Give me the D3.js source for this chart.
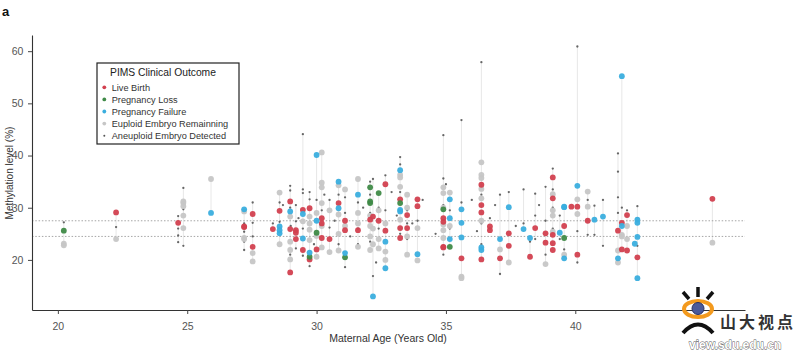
<!DOCTYPE html>
<html><head><meta charset="utf-8">
<script src="https://cdn.jsdelivr.net/npm/d3@7/dist/d3.min.js"></script>
<style>body{margin:0;background:#fff}svg{display:block;font-family:"Liberation Sans",Arial,sans-serif}</style>
</head><body><svg id="c" width="800" height="353"></svg>
<script>
const liveBirth=[[22.25,29.1],[24.65,27.1],[27.2,26.3],[27.2,26.4],[27.53,28.8],[27.53,22.5],[28.31,25.9],[28.57,29.4],[28.98,31.2],[28.98,25.9],[28.98,17.6],[29.2,25.7],[29.2,25.2],[29.2,24.0],[29.47,29.6],[29.47,21.9],[29.73,29.9],[29.73,20.1],[30.0,22.0],[30.2,28.0],[30.2,27.0],[30.2,24.2],[30.5,24.0],[30.85,30.9],[31.1,27.5],[31.1,25.7],[31.6,25.7],[32.07,27.7],[32.18,28.3],[32.4,27.5],[32.66,34.5],[32.66,25.6],[33.23,31.6],[33.23,26.1],[33.23,24.2],[33.5,28.6],[33.5,26.1],[33.9,31.6],[33.9,30.3],[34.9,28.0],[34.9,27.3],[34.9,22.5],[34.9,22.4],[35.6,20.3],[36.37,34.4],[36.37,30.5],[36.37,29.1],[36.7,26.4],[36.7,25.7],[36.37,20.1],[37.09,20.3],[37.43,25.1],[37.43,22.7],[38.25,20.6],[38.45,26.1],[38.85,23.3],[38.85,25.1],[39.13,35.8],[39.13,31.8],[39.13,24.8],[39.13,23.2],[39.13,21.9],[39.57,26.5],[39.85,30.2],[40.08,30.2],[40.08,21.0],[40.48,27.5],[41.65,25.6],[41.8,27.1],[41.8,22.0],[42.0,28.6],[42.0,21.8],[42.4,20.5],[45.3,31.7]];
const pregnancyLoss=[[20.23,25.6],[29.73,20.6],[30.0,25.2],[31.1,20.5],[32.07,33.9],[32.07,30.9],[32.07,31.2],[32.4,32.8],[33.23,30.9],[34.9,29.7],[35.15,22.5],[39.57,24.2]];
const pregnancyFailure=[[25.92,29.0],[27.2,29.7],[28.57,26.4],[28.57,25.7],[28.57,25.1],[28.98,29.3],[29.47,28.8],[29.47,24.1],[29.73,21.4],[30.0,40.1],[30.0,27.5],[30.85,35.0],[30.85,29.9],[31.1,21.3],[31.6,32.5],[32.18,13.0],[32.66,23.5],[32.66,18.4],[33.23,37.2],[33.23,29.3],[33.23,29.6],[33.9,21.1],[35.15,31.6],[35.15,28.0],[35.15,24.0],[35.6,29.7],[35.6,27.1],[35.6,24.3],[36.37,22.4],[36.37,21.9],[37.09,24.0],[37.43,30.1],[38.0,25.9],[38.25,24.2],[39.4,25.2],[39.57,30.1],[39.57,30.2],[39.57,20.3],[40.08,34.2],[40.74,27.7],[41.07,28.3],[41.65,20.3],[41.8,55.2],[41.8,26.5],[42.3,23.1],[42.4,27.7],[42.4,27.1],[42.4,24.4],[42.4,16.5]];
const euploidRemaining=[[20.23,23.1],[20.23,22.8],[22.25,24.0],[24.85,31.2],[24.85,30.9],[24.85,30.3],[24.85,28.5],[24.85,26.1],[25.92,35.5],[27.2,29.3],[27.2,24.2],[27.2,24.0],[27.53,21.3],[27.53,19.7],[28.57,32.9],[28.57,23.0],[28.98,28.3],[28.98,23.5],[28.98,21.9],[28.98,20.1],[29.47,27.4],[29.73,28.3],[29.73,27.0],[29.73,25.8],[29.73,23.8],[30.0,29.0],[30.0,24.6],[30.0,20.6],[30.2,40.6],[30.2,34.8],[30.2,33.9],[30.2,30.9],[30.2,26.5],[30.2,22.4],[30.5,21.5],[30.5,29.5],[30.85,34.3],[30.85,28.7],[30.85,25.0],[30.85,21.8],[31.1,26.5],[31.1,33.5],[31.6,29.0],[31.6,27.0],[31.6,22.5],[31.6,35.5],[32.07,24.5],[32.07,21.9],[32.07,28.5],[32.07,26.5],[32.18,23.0],[32.18,26.0],[32.4,24.0],[32.4,22.2],[32.4,29.5],[32.66,21.6],[32.66,20.0],[32.66,27.0],[33.23,36.3],[33.23,35.8],[33.23,27.7],[33.23,34.0],[33.5,32.5],[33.5,21.0],[33.5,30.0],[33.5,24.5],[33.9,26.1],[33.9,19.9],[34.9,33.9],[34.9,32.8],[34.9,25.7],[34.9,24.2],[34.9,30.0],[34.9,26.8],[35.15,32.9],[35.15,26.5],[35.6,16.8],[35.6,16.5],[36.37,38.7],[36.37,36.3],[36.37,35.7],[36.37,33.6],[36.37,31.8],[36.37,27.5],[37.09,22.0],[37.43,19.5],[38.85,19.2],[39.13,32.6],[39.13,29.5],[39.13,28.5],[39.13,25.4],[39.57,21.0],[40.08,31.6],[40.08,28.8],[40.48,33.1],[40.48,30.2],[41.65,21.8],[41.65,19.5],[41.8,24.8],[41.8,24.5],[42.0,26.5],[42.0,24.0],[45.3,23.3]];
const aneuploid=[[20.23,27.2],[22.25,26.3],[24.65,28.4],[24.65,26.0],[24.65,24.7],[24.65,23.4],[24.85,33.8],[24.85,29.7],[24.85,22.7],[27.2,25.4],[27.2,23.5],[27.2,21.9],[27.2,27.0],[27.53,31.0],[27.53,27.1],[27.53,24.5],[28.31,27.0],[28.57,27.3],[28.57,31.0],[28.98,34.2],[28.98,33.3],[28.98,21.0],[28.98,30.0],[29.2,30.5],[29.2,22.2],[29.2,27.4],[29.47,44.1],[29.47,33.5],[29.47,32.8],[29.47,20.8],[29.47,26.0],[29.73,31.6],[29.73,18.8],[29.73,33.0],[30.0,31.5],[30.2,29.5],[30.5,31.5],[30.5,26.2],[30.85,23.0],[30.85,32.5],[31.1,32.0],[31.1,18.6],[31.1,29.0],[31.6,31.0],[31.6,23.0],[31.6,26.0],[32.07,35.0],[32.07,29.0],[32.07,32.5],[32.07,23.5],[32.18,16.9],[32.18,35.5],[32.4,30.0],[32.4,26.0],[32.66,36.2],[32.66,29.5],[33.23,38.3],[33.23,39.7],[33.23,25.0],[33.23,33.0],[33.5,29.5],[33.5,24.0],[33.5,27.0],[33.9,27.5],[34.9,43.9],[34.9,35.6],[34.9,21.0],[34.9,30.5],[34.9,27.0],[35.15,26.0],[35.15,29.5],[35.6,46.8],[35.6,31.0],[36.37,57.9],[36.37,27.0],[36.37,23.0],[36.37,32.5],[36.7,28.0],[37.09,17.3],[37.09,32.5],[37.43,33.0],[38.0,33.5],[38.0,27.0],[38.25,23.5],[38.45,32.7],[38.45,28.5],[38.45,24.0],[38.85,34.0],[38.85,27.5],[38.85,21.0],[39.13,37.5],[39.13,30.0],[39.13,26.0],[39.13,33.5],[39.4,28.5],[39.4,24.0],[39.57,22.0],[40.08,60.9],[40.08,25.5],[40.08,19.5],[40.48,31.5],[40.48,24.8],[40.74,30.4],[40.74,24.8],[41.07,31.5],[41.07,22.7],[41.65,40.4],[41.65,36.9],[41.65,32.0],[41.65,29.0],[41.8,30.0],[42.0,29.5],[42.4,30.3],[42.4,22.7],[28.7,30.5],[29.0,26.5],[29.3,28.0],[29.9,23.0],[30.3,32.5],[30.7,27.5],[31.3,24.5],[31.8,30.0],[32.3,19.5],[32.9,33.0],[33.1,28.5],[33.7,27.0],[34.1,31.5],[34.6,25.0],[35.0,34.5],[36.0,31.5],[36.2,25.5],[36.9,30.5],[37.7,26.5],[38.6,30.5]];
const thresholds=[27.5,24.5];
const xTicks=[20,25,30,35,40];
const yTicks=[20,30,40,50,60];
const legendLabels=["Live Birth","Pregnancy Loss","Pregnancy Failure","Euploid Embryo Remainning","Aneuploid Embryo Detected"];

const svg=d3.select("#c");
const x=d3.scaleLinear().domain([19.0,46.56]).range([32,745]);
const y=d3.scaleLinear().domain([10.4,63.1]).range([310,35]);

const series=[
 {data:liveBirth,color:"#d2404f",r:2.9},
 {data:pregnancyLoss,color:"#3f8a47",r:2.9},
 {data:pregnancyFailure,color:"#3aaede",r:2.9},
 {data:euploidRemaining,color:"#c6c6c6",r:2.9},
 {data:aneuploid,color:"#555",r:1.15}
];
const all=series.flatMap(s=>s.data);
const groups=d3.rollups(all,v=>d3.extent(v,d=>d[1]),d=>d[0]).filter(g=>g[1][0]!==g[1][1]);
svg.append("g").selectAll("line").data(groups).join("line")
 .attr("x1",d=>x(d[0])).attr("x2",d=>x(d[0]))
 .attr("y1",d=>y(d[1][0])).attr("y2",d=>y(d[1][1]))
 .attr("stroke","#e4e4e4").attr("stroke-width",0.9);
svg.append("g").selectAll("line").data(thresholds).join("line")
 .attr("x1",32).attr("x2",745).attr("y1",d=>y(d)).attr("y2",d=>y(d))
 .attr("stroke","#8f8f8f").attr("stroke-width",0.8).attr("stroke-dasharray","1.5,1.8");
const order=[4,3,0,1,2];
order.forEach(i=>{const s=series[i];
 svg.append("g").selectAll("circle").data(s.data).join("circle")
  .attr("cx",d=>x(d[0])).attr("cy",d=>y(d[1])).attr("r",s.r).attr("fill",s.color).attr("fill-opacity",i===4?0.9:0.95);
});
const ax=svg.append("g").attr("transform","translate(0,310)")
 .call(d3.axisBottom(x).tickValues(xTicks).tickSize(4).tickSizeOuter(0));
const ay=svg.append("g").attr("transform","translate(32,0)")
 .call(d3.axisLeft(y).tickValues(yTicks).tickSize(4).tickSizeOuter(0));
[ax,ay].forEach(a=>{a.select(".domain").attr("stroke","#333").attr("stroke-width",1.1);
 a.selectAll(".tick line").attr("stroke","#444");
 a.selectAll(".tick text").attr("fill","#555").attr("font-size",10.5).attr("font-family","Liberation Sans, Arial");});
ax.selectAll(".tick text").attr("dy","1.25em");
ay.selectAll(".tick text").attr("dx","-0.15em");
svg.append("text").attr("x",388).attr("y",342).attr("text-anchor","middle").attr("font-size",10.5).attr("fill","#333").text("Maternal Age (Years Old)");
svg.append("text").attr("transform","translate(13,173) rotate(-90)").attr("text-anchor","middle").attr("font-size",10).attr("fill","#333").text("Methylation level (%)");
svg.append("text").attr("x",2).attr("y",16).attr("font-size",13).attr("font-weight","bold").attr("fill","#111").text("a");
const lg=svg.append("g");
lg.append("rect").attr("x",97).attr("y",63).attr("width",142).attr("height",81).attr("fill","#fff").attr("stroke","#222").attr("stroke-width",1.2);
lg.append("text").attr("x",163).attr("y",75.5).attr("text-anchor","middle").attr("font-size",10.3).attr("fill","#222").text("PIMS Clinical Outcome");
const lr=[1.9,1.9,1.9,1.9,1.0];
legendLabels.forEach((t,i)=>{const cy=87.3+i*12.1;
 lg.append("circle").attr("cx",104.3).attr("cy",cy).attr("r",lr[i]).attr("fill",series[i].color);
 lg.append("text").attr("x",111.7).attr("y",cy+3.3).attr("font-size",9.2).attr("fill","#333").text(t);
});
const wm=svg.append("g");
wm.append("line").attr("x1",698).attr("y1",287).attr("x2",698).attr("y2",297).attr("stroke","#111").attr("stroke-width",3.5);
wm.append("line").attr("x1",683).attr("y1",292).attr("x2",689).attr("y2",299).attr("stroke","#111").attr("stroke-width",3.5);
wm.append("line").attr("x1",713).attr("y1",292).attr("x2",707).attr("y2",299).attr("stroke","#111").attr("stroke-width",3.5);
wm.append("ellipse").attr("cx",698).attr("cy",309).attr("rx",14).attr("ry",8).attr("fill","none").attr("stroke","#f39a1e").attr("stroke-width",4);
wm.append("circle").attr("cx",698).attr("cy",308.5).attr("r",6).attr("fill","#4a5a9a").attr("stroke","#2a3060");
wm.append("path").attr("d","M683,333 Q698,316 713,333").attr("fill","none").attr("stroke","#111").attr("stroke-width",4);
wm.append("text").attr("x",720).attr("y",328).attr("font-size",16).attr("font-weight","bold").attr("letter-spacing",3).attr("fill","#333").attr("font-family","Noto Sans CJK SC").text("山大视点");
wm.append("text").attr("x",689).attr("y",349).attr("font-size",12).attr("font-weight","bold").attr("fill","#fff").attr("stroke","#555").attr("stroke-width",0.8).attr("paint-order","stroke").text("view.sdu.edu.cn");
</script></body></html>
